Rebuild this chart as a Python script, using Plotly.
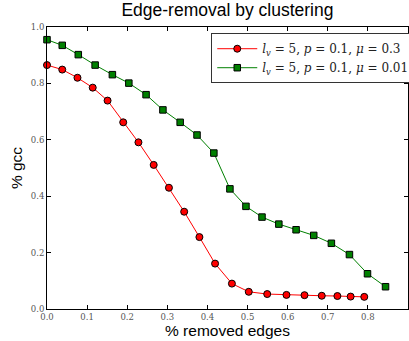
import plotly.graph_objects as go

# Fraction of edges removed (x) and fraction of nodes in the giant component (y)
removed_red = [0.0, 0.038, 0.076, 0.114, 0.151, 0.190, 0.228, 0.266, 0.304, 0.342, 0.380,
               0.419, 0.461, 0.503, 0.549, 0.597, 0.642, 0.685, 0.724, 0.757, 0.791]
gcc_red = [0.865, 0.849, 0.820, 0.785, 0.739, 0.662, 0.591, 0.511, 0.430, 0.345, 0.255,
           0.161, 0.090, 0.061, 0.053, 0.050, 0.049, 0.047, 0.046, 0.044, 0.043]

removed_green = [0.0, 0.038, 0.078, 0.120, 0.163, 0.204, 0.247, 0.289, 0.332, 0.374, 0.416,
                 0.456, 0.496, 0.536, 0.578, 0.621, 0.665, 0.709, 0.754, 0.799, 0.844]
gcc_green = [0.955, 0.935, 0.902, 0.865, 0.831, 0.801, 0.760, 0.706, 0.662, 0.617, 0.553,
             0.426, 0.364, 0.326, 0.301, 0.281, 0.261, 0.233, 0.193, 0.125, 0.079]

label_red = "<i>l</i><sub><i>v</i></sub> = 5, <i>p</i> = 0.1, <i>μ</i> = 0.3"
label_green = "<i>l</i><sub><i>v</i></sub> = 5, <i>p</i> = 0.1, <i>μ</i> = 0.01"

x_ticks = [0.0, 0.1, 0.2, 0.3, 0.4, 0.5, 0.6, 0.7, 0.8, 0.9]
y_ticks = [0.0, 0.2, 0.4, 0.6, 0.8, 1.0]

fig = go.Figure()
fig.add_trace(go.Scatter(
    x=removed_red, y=gcc_red, mode="lines+markers", name=label_red,
    line=dict(color="#ff0000", width=1),
    marker=dict(symbol="circle", size=7, color="#ff0000", line=dict(color="black", width=1)),
    cliponaxis=False,
))
fig.add_trace(go.Scatter(
    x=removed_green, y=gcc_green, mode="lines+markers", name=label_green,
    line=dict(color="#008000", width=1),
    marker=dict(symbol="square", size=6.5, color="#008000", line=dict(color="black", width=1)),
    cliponaxis=False,
))

sans = "Liberation Sans, Arial, sans-serif"
tick_font = dict(family="DejaVu Serif, serif", size=8.5, color="#555")
axis_common = dict(
    showgrid=False, zeroline=False, showline=True, linecolor="black", linewidth=1,
    mirror="ticks", ticks="inside", ticklen=4, tickcolor="black", tickwidth=1,
    tickfont=tick_font, automargin=False,
)

fig.update_layout(
    width=409, height=341,
    margin=dict(l=47, r=1, t=27, b=32, autoexpand=False),
    paper_bgcolor="white", plot_bgcolor="white",
    title=dict(text="Edge-removal by clustering", x=0.556, xanchor="center",
               y=0.988, yanchor="top",
               font=dict(family=sans, size=17.5, color="black")),
    xaxis=dict(range=[0, 0.9], tickvals=x_ticks, ticktext=[f"{v:.1f}" for v in x_ticks],
               title=dict(text="% removed edges", standoff=2,
                          font=dict(family=sans, size=15.5, color="black")),
               **axis_common),
    yaxis=dict(range=[0, 1.0], tickvals=y_ticks, ticktext=[f"{v:.1f}" for v in y_ticks],
               title=dict(text="% gcc", standoff=4,
                          font=dict(family=sans, size=15.5, color="black")),
               **axis_common),
    legend=dict(x=0.455, y=0.978, xanchor="left", yanchor="top",
                bgcolor="white", bordercolor="#333", borderwidth=1,
                font=dict(family="DejaVu Serif, serif", size=12, color="#222"),
                itemwidth=40, tracegroupgap=0),
    showlegend=True,
)

fig.write_html("out.html")
